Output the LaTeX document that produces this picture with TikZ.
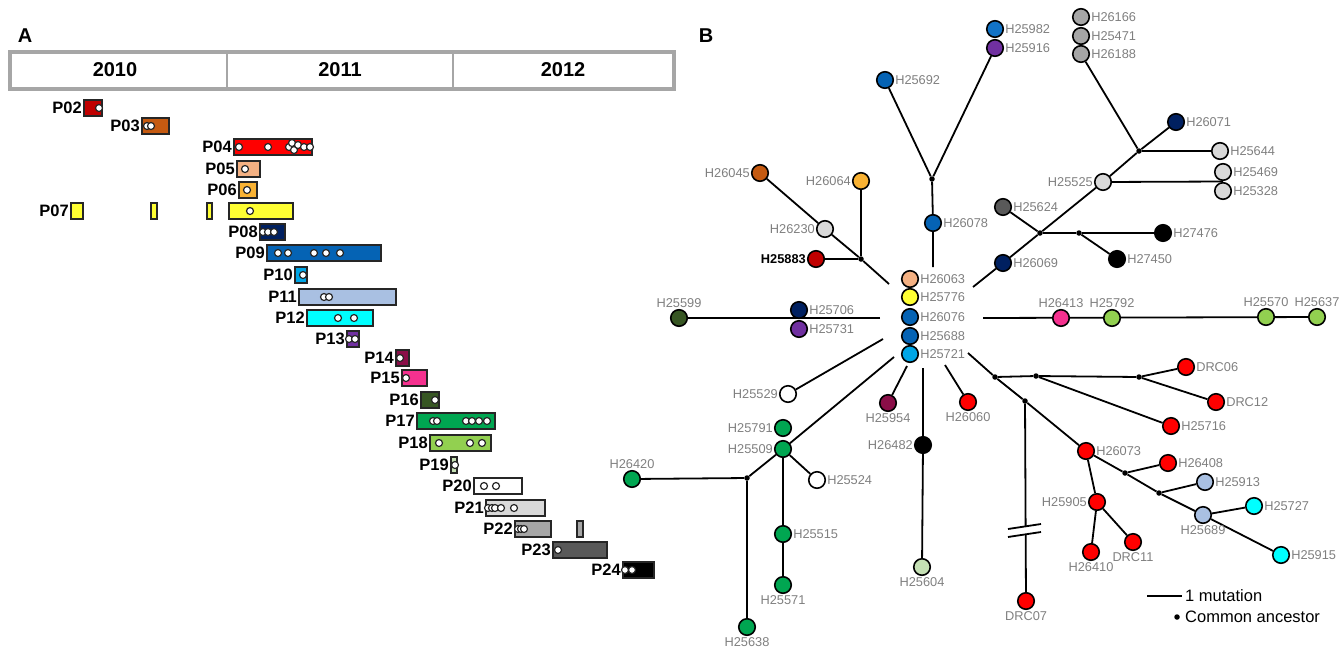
\documentclass[tikz,border=0pt]{standalone}
\usepackage{fontspec}
\setmainfont{Liberation Sans}
\usetikzlibrary{backgrounds,calc}

\definecolor{labgray}{HTML}{7F7F7F}
\definecolor{boxgray}{HTML}{A6A6A6}
\definecolor{cDkRed}{HTML}{C00000}
\definecolor{cBrown}{HTML}{C55A11}
\definecolor{cSalmon}{HTML}{F4B183}
\definecolor{cOrange}{HTML}{F9B233}
\definecolor{cYellow}{HTML}{FFFF33}
\definecolor{cNavy}{HTML}{002060}
\definecolor{cBlue}{HTML}{0563B4}
\definecolor{cBlueB}{HTML}{1273C6}
\definecolor{cSky}{HTML}{00A6E6}
\definecolor{cSteel}{HTML}{A9C0E2}
\definecolor{cCyan}{HTML}{00FFFF}
\definecolor{cPurple}{HTML}{7030A0}
\definecolor{cMaroon}{HTML}{8A0E48}
\definecolor{cPink}{HTML}{F5318F}
\definecolor{cDkGreen}{HTML}{375623}
\definecolor{cGreen}{HTML}{00A651}
\definecolor{cLtGreen}{HTML}{92D050}
\definecolor{cPale}{HTML}{C5E0B4}
\definecolor{cLtGray}{HTML}{D9D9D9}
\definecolor{cGray}{HTML}{A6A6A6}
\definecolor{cDkGray}{HTML}{595959}

\newcommand{\hfont}{\fontsize{12.8}{14}\selectfont}
\newcommand{\pfont}{\fontsize{16.5}{18}\selectfont\bfseries}

\tikzset{
  hap/.style={circle, draw=black, line width=1.6pt, minimum size=16.5pt, inner sep=0pt},
  anc/.style={circle, fill=black, minimum size=5.5pt, inner sep=0pt},
  every label/.style={text=labgray, font=\hfont, inner sep=1pt},
  lk/.style={line width=1.8pt},
  bar/.style={draw=black!85, line width=1.5pt},
  wdot/.style={draw=black!85, fill=white, line width=1.2pt},
  plab/.style={font=\pfont, inner sep=1pt},
  yr/.style={font=\fontsize{20}{22}\selectfont\bfseries},
  panel/.style={font=\fontsize{20}{22}\selectfont\bfseries},
}

\begin{document}
\begin{tikzpicture}[x=1pt, y=-1pt]
  \useasboundingbox (0,0) rectangle (1341,649);

  % panel A: timeline
  \node[panel] (pA) at (25,36) {A};
  \draw[boxgray, line width=4pt] (10,51.5) rectangle (674,89);
  \foreach \x in {227, 453} { \draw[boxgray, line width=1.5pt] (\x,51.5) -- (\x,89); }
  \node[yr] (y2010) at (115,70) {2010};
  \node[yr] (y2011) at (340,70) {2011};
  \node[yr] (y2012) at (563,70) {2012};

  \foreach \lab/\xa/\xb/\yc/\col in {P02/84/102/108/cDkRed, P03/142/169/126/cBrown,
      P04/234/312/147/red, P05/237/260/169/cSalmon, P06/239/257/190/cOrange,
      P07/71/83/211/cYellow, P08/260/285/232/cNavy, P09/267/381/253/cBlue,
      P10/295/307/275/cSky, P11/299/396/297/cSteel, P12/307/373/318/cCyan,
      P13/347/359/339/cPurple, P14/396/409/358/cMaroon, P15/402/427/378/cPink,
      P16/421/439/400/cDkGreen, P17/417/495/421/cGreen, P18/430/491/443/cLtGreen,
      P19/451/457/465/cPale, P20/474/522/486/white, P21/486/545/508/cLtGray,
      P22/515/551/529/cGray, P23/553/607/550/cDkGray, P24/623/654/570/black} {
    \draw[bar, fill=\col] (\xa,\yc-8) rectangle (\xb,\yc+8);
    \node[plab, anchor=east] (\lab) at (\xa-1,\yc) {\lab};
  }
  \foreach \xa/\xb in {151/157, 207/212, 229/293} { \draw[bar, fill=cYellow] (\xa,203) rectangle (\xb,219); }
  \draw[bar, fill=cGray] (577,521) rectangle (583,537);
  \foreach \x/\y in {99/108, 147/126, 151/126, 239/147, 268/147, 289/147, 292/143,
      294/150, 298/145, 304/147, 310/147, 245/169, 247/190, 250/211, 263/232, 268/232,
      274/232, 278/253, 288/253, 314/253, 326/253, 340/253, 303/275, 324/297, 329/297,
      338/318, 354/318, 349/339, 355/339, 400/358, 406/378, 435/400, 433/421, 437/421,
      466/421, 472/421, 479/421, 487/421, 439/443, 470/443, 482/443, 455/465, 484/486,
      496/486, 488/508, 492/508, 495/508, 501/508, 514/508, 518/529, 521/529, 524/529,
      558/550, 625/570, 632/570} {
    \draw[wdot] (\x,\y) circle (3.5);
  }

  % panel B: haplotype network
  \node[panel] (pB) at (706,36) {B};

  \node[hap, fill=cBlueB, label=right:H25982] (h25982) at (995,29) {};
  \node[hap, fill=cPurple, label=right:H25916] (h25916) at (995,48) {};
  \node[hap, fill=cGray, label=right:H26166] (h26166) at (1081,17) {};
  \node[hap, fill=cGray, label=right:H25471] (h25471) at (1081,36) {};
  \node[hap, fill=cGray, label=right:H26188] (h26188) at (1081,54) {};
  \node[hap, fill=cBlue, label=right:H25692] (h25692) at (885,80) {};
  \node[hap, fill=cNavy, label=right:H26071] (h26071) at (1176,122) {};
  \node[hap, fill=cLtGray, label=right:H25644] (h25644) at (1220,151) {};
  \node[hap, fill=cBrown, label=left:H26045] (h26045) at (760,173) {};
  \node[hap, fill=cOrange, label=left:H26064] (h26064) at (861,181) {};
  \node[hap, fill=cLtGray, label=left:H25525] (h25525) at (1103,182) {};
  \node[hap, fill=cLtGray, label=right:H25469] (h25469) at (1223,172) {};
  \node[hap, fill=cLtGray, label=right:H25328] (h25328) at (1223,191) {};
  \node[hap, fill=cDkGray, label=right:H25624] (h25624) at (1003,207) {};
  \node[hap, fill=cBlue, label=right:H26078] (h26078) at (933,223) {};
  \node[hap, fill=cLtGray, label=left:H26230] (h26230) at (825,229) {};
  \node[hap, fill=black, label=right:H27476] (h27476) at (1163,233) {};
  \node[hap, fill=cDkRed, label={[text=black, font=\hfont\bfseries]left:H25883}] (h25883) at (816,259) {};
  \node[hap, fill=cNavy, label=right:H26069] (h26069) at (1003,263) {};
  \node[hap, fill=black, label=right:H27450] (h27450) at (1117,259) {};
  \node[hap, fill=cSalmon, label=right:H26063] (h26063) at (910,279) {};
  \node[hap, fill=cYellow, label=right:H25776] (h25776) at (910,297) {};
  \node[hap, fill=cBlue, label=right:H26076] (h26076) at (910,317) {};
  \node[hap, fill=cBlue, label=right:H25688] (h25688) at (910,336) {};
  \node[hap, fill=cSky, label=right:H25721] (h25721) at (910,354) {};
  \node[hap, fill=cDkGreen, label=above:H25599] (h25599) at (679,318) {};
  \node[hap, fill=cNavy, label=right:H25706] (h25706) at (799,310) {};
  \node[hap, fill=cPurple, label=right:H25731] (h25731) at (799,329) {};
  \node[hap, fill=cPink, label=above:H26413] (h26413) at (1061,318) {};
  \node[hap, fill=cLtGreen, label=above:H25792] (h25792) at (1112,318) {};
  \node[hap, fill=cLtGreen, label=above:H25570] (h25570) at (1266,317) {};
  \node[hap, fill=cLtGreen, label=above:H25637] (h25637) at (1317,317) {};
  \node[hap, fill=red, label=right:DRC06] (drc06) at (1186,367) {};
  \node[hap, fill=red, label=right:DRC12] (drc12) at (1216,402) {};
  \node[hap, fill=red, label=right:H25716] (h25716) at (1171,426) {};
  \node[hap, fill=red, label=below:H26060] (h26060) at (968,402) {};
  \node[hap, fill=cMaroon, label=below:H25954] (h25954) at (888,403) {};
  \node[hap, fill=white, label=left:H25529] (h25529) at (788,394) {};
  \node[hap, fill=cGreen, label=left:H25791] (h25791) at (783,428) {};
  \node[hap, fill=cGreen, label=left:H25509] (h25509) at (783,449) {};
  \node[hap, fill=cGreen, label=above:H26420] (h26420) at (632,479) {};
  \node[hap, fill=white, label=right:H25524] (h25524) at (817,480) {};
  \node[hap, fill=black, label=left:H26482] (h26482) at (923,445) {};
  \node[hap, fill=red, label=right:H26073] (h26073) at (1086,451) {};
  \node[hap, fill=red, label=right:H26408] (h26408) at (1168,463) {};
  \node[hap, fill=cSteel, label=right:H25913] (h25913) at (1205,482) {};
  \node[hap, fill=red, label=left:H25905] (h25905) at (1097,502) {};
  \node[hap, fill=cCyan, label=right:H25727] (h25727) at (1254,506) {};
  \node[hap, fill=cSteel, label=below:H25689] (h25689) at (1203,515) {};
  \node[hap, fill=cGreen, label=right:H25515] (h25515) at (783,534) {};
  \node[hap, fill=red, label=below:H26410] (h26410) at (1091,552) {};
  \node[hap, fill=red, label=below:DRC11] (drc11) at (1133,542) {};
  \node[hap, fill=cCyan, label=right:H25915] (h25915) at (1281,555) {};
  \node[hap, fill=cPale, label=below:H25604] (h25604) at (922,567) {};
  \node[hap, fill=cGreen, label=below:H25571] (h25571) at (783,585) {};
  \node[hap, fill=red, label=below:DRC07] (drc07) at (1026,601) {};
  \node[hap, fill=cGreen, label=below:H25638] (h25638) at (747,627) {};

  % common ancestors
  \foreach \n/\x/\y in {j1/932/179, j2/861/259, j3/1040/233, j4/1079/233, j5/1139/151,
      j6/747/478, j7/995/377, j8/1036/376, j9/1139/377, j10/1025/401, j11/1125/473,
      j12/1159/493} {
    \node[anc] (\n) at (\x,\y) {};
  }

  % line ends round the central group
  \coordinate (sU) at (933,267);
  \coordinate (sUL) at (889,284);
  \coordinate (sUR) at (973,287);
  \coordinate (sL) at (880,318);
  \coordinate (sR) at (983,318);
  \coordinate (sLa) at (883,339);
  \coordinate (sLb) at (894,357);
  \coordinate (sDa) at (907,366);
  \coordinate (sDb) at (923,368);
  \coordinate (sDc) at (945,365);
  \coordinate (sDR) at (968,353);

  \begin{scope}[on background layer]
    \draw[lk] (sU) -- (h26078) -- (j1) -- (h25692);
    \draw[lk] (j1) -- (h25916);
    \draw[lk] (sUL) -- (j2) -- (h26230) -- (h26045);
    \draw[lk] (j2) -- (h26064);
    \draw[lk] (j2) -- (h25883);
    \draw[lk] (sUR) -- (h26069) -- (j3) -- (h25525) -- (j5) -- (h26071);
    \draw[lk] (j3) -- (h25624);
    \draw[lk] (j3) -- (j4) -- (h27476);
    \draw[lk] (j4) -- (h27450);
    \draw[lk] (j5) -- (h26188);
    \draw[lk] (j5) -- (h25644);
    \draw[lk] (h25525) -- ($(h25469.south)!0.5!(h25328.north)$);
    \draw[lk] (sL) -- (h25599);
    \draw[lk] (sR) -- (h25637);
    \draw[lk] (sLa) -- (h25529);
    \draw[lk] (sLb) -- (h25509) -- (j6) -- (h26420);
    \draw[lk] (j6) -- (h25638);
    \draw[lk] (h25509) -- (h25524);
    \draw[lk] (h25509) -- (h25515) -- (h25571);
    \draw[lk] (sDa) -- (h25954);
    \draw[lk] (sDb) -- (h26482) -- (h25604);
    \draw[lk] (sDc) -- (h26060);
    \draw[lk] (sDR) -- (j7) -- (j8) -- (j9) -- (drc06);
    \draw[lk] (j9) -- (drc12);
    \draw[lk] (j8) -- (h25716);
    \draw[lk] (j7) -- (j10) -- (h26073) -- (j11) -- (j12) -- (h25689) -- (h25915);
    \draw[lk] (j10) -- (drc07);
    \draw[lk] (j11) -- (h26408);
    \draw[lk] (j12) -- (h25913);
    \draw[lk] (h25689) -- (h25727);
    \draw[lk] (h26073) -- (h25905) -- (h26410);
    \draw[lk] (h25905) -- (drc11);
  \end{scope}
  % break on the long branch
  \fill[white] (1008,529) -- (1041,524) -- (1041,532) -- (1008,537) -- cycle;
  \draw[lk] (1008,529) -- (1041,524);
  \draw[lk] (1008,537) -- (1041,532);

  % legend
  \coordinate (lgA) at (1147,596);
  \coordinate (lgB) at (1182,596);
  \draw[lk] (lgA) -- (lgB);
  \node[anchor=west, font=\fontsize{16.5}{18}\selectfont, inner sep=1pt] (lgmut) at (1184,596) {1 mutation};
  \node[anc] (lgdot) at (1177,617) {};
  \node[anchor=west, font=\fontsize{16.5}{18}\selectfont, inner sep=1pt] (lgca) at (1184,617) {Common ancestor};
\end{tikzpicture}
\end{document}
